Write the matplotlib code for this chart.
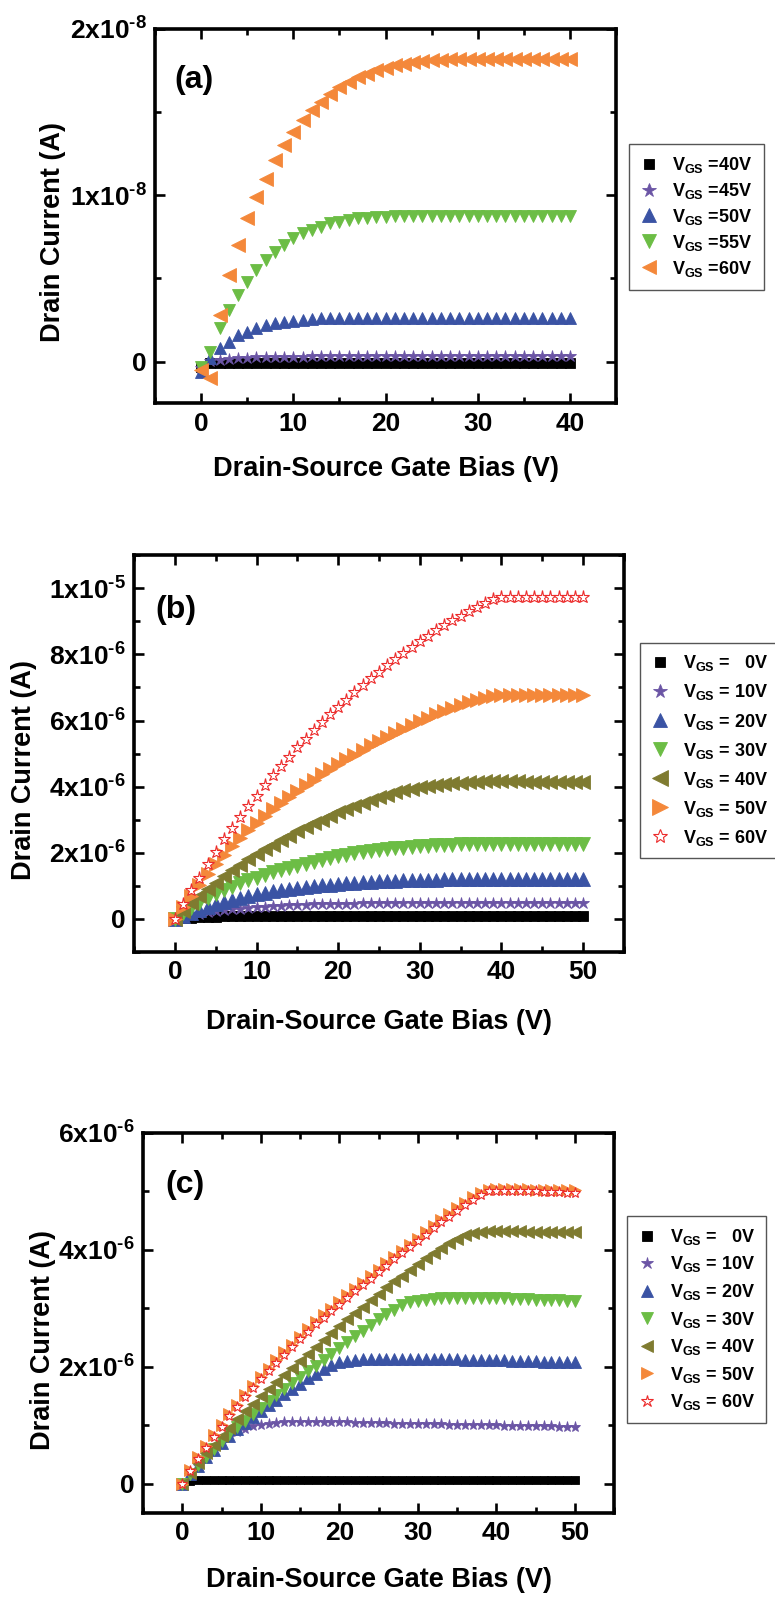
import numpy as np
import matplotlib
matplotlib.use('Agg')
import matplotlib.pyplot as plt
from matplotlib.ticker import MultipleLocator, FuncFormatter

plt.rcParams['font.family'] = ['Liberation Sans', 'DejaVu Sans']
plt.rcParams['font.weight'] = 'bold'
plt.rcParams['axes.labelweight'] = 'bold'
plt.rcParams['mathtext.default'] = 'regular'

# ---------------- (a) Vds = 0..40 V, current in units of 1e-8 A ----------------
vds_a = np.arange(0, 41)
ids_a_40 = [-0.035, -0.01, -0.01, -0.01, -0.01, -0.01, -0.01, -0.01, -0.01, -0.01,
            -0.01, -0.01, -0.01, -0.01, -0.01, -0.01, -0.01, -0.01, -0.01, -0.01,
            -0.01, -0.01, -0.01, -0.01, -0.01, -0.01, -0.01, -0.01, -0.01, -0.01,
            -0.01, -0.01, -0.01, -0.01, -0.01, -0.01, -0.01, -0.01, -0.01, -0.01, -0.01]
ids_a_45 = [-0.04, 0.005, 0.01, 0.015, 0.02, 0.02, 0.025, 0.025, 0.03, 0.03,
            0.03, 0.03, 0.032, 0.032, 0.033, 0.033, 0.034, 0.034, 0.035, 0.035,
            0.035, 0.035, 0.035, 0.035, 0.035, 0.035, 0.035, 0.035, 0.035, 0.035,
            0.035, 0.035, 0.035, 0.035, 0.035, 0.035, 0.035, 0.035, 0.035, 0.035, 0.035]
ids_a_50 = [-0.06, 0.02, 0.08, 0.12, 0.16, 0.18, 0.20, 0.22, 0.23, 0.24,
            0.245, 0.25, 0.255, 0.26, 0.26, 0.265, 0.265, 0.265, 0.265, 0.265,
            0.265, 0.265, 0.265, 0.265, 0.265, 0.265, 0.265, 0.265, 0.265, 0.265,
            0.265, 0.265, 0.265, 0.265, 0.265, 0.265, 0.265, 0.265, 0.265, 0.265, 0.265]
ids_a_55 = [-0.03, 0.06, 0.20, 0.31, 0.40, 0.48, 0.55, 0.61, 0.66, 0.70,
            0.74, 0.77, 0.79, 0.81, 0.83, 0.84, 0.85, 0.86, 0.865, 0.87,
            0.87, 0.872, 0.872, 0.875, 0.875, 0.875, 0.875, 0.875, 0.875, 0.875,
            0.875, 0.875, 0.875, 0.875, 0.875, 0.875, 0.875, 0.875, 0.875, 0.875, 0.875]
ids_a_60 = [-0.05, -0.10, 0.28, 0.52, 0.70, 0.86, 0.99, 1.10, 1.21, 1.30,
            1.38, 1.45, 1.51, 1.56, 1.61, 1.65, 1.68, 1.71, 1.73, 1.75,
            1.765, 1.78, 1.79, 1.80, 1.805, 1.81, 1.815, 1.82, 1.82, 1.82,
            1.82, 1.82, 1.82, 1.82, 1.82, 1.82, 1.82, 1.82, 1.82, 1.82, 1.82]
labels_a = ['V$_{GS}$ =40V', 'V$_{GS}$ =45V', 'V$_{GS}$ =50V', 'V$_{GS}$ =55V', 'V$_{GS}$ =60V']

# ---------------- (b) Vds = 0..50 V, current in units of 1e-6 A ----------------
vds_b = np.arange(0, 51)
ids_b_0 = [0, 0.02, 0.04, 0.05, 0.06, 0.07, 0.08, 0.08, 0.09, 0.09,
           0.10, 0.10, 0.10, 0.10, 0.10, 0.10, 0.10, 0.10, 0.10, 0.10,
           0.10, 0.10, 0.10, 0.10, 0.10, 0.10, 0.10, 0.10, 0.10, 0.10,
           0.10, 0.10, 0.10, 0.10, 0.10, 0.10, 0.10, 0.10, 0.10, 0.10,
           0.10, 0.10, 0.10, 0.10, 0.10, 0.10, 0.10, 0.10, 0.10, 0.10, 0.10]
ids_b_10 = [0, 0.06, 0.11, 0.16, 0.20, 0.23, 0.26, 0.29, 0.31, 0.33,
            0.35, 0.37, 0.38, 0.40, 0.41, 0.42, 0.43, 0.44, 0.44, 0.45,
            0.45, 0.46, 0.46, 0.47, 0.47, 0.47, 0.48, 0.48, 0.48, 0.48,
            0.48, 0.48, 0.48, 0.48, 0.48, 0.48, 0.48, 0.48, 0.48, 0.48,
            0.48, 0.48, 0.48, 0.48, 0.48, 0.48, 0.48, 0.48, 0.48, 0.48, 0.48]
ids_b_20 = [0, 0.10, 0.19, 0.28, 0.36, 0.44, 0.51, 0.58, 0.64, 0.69,
            0.74, 0.79, 0.83, 0.87, 0.91, 0.94, 0.97, 1.00, 1.02, 1.04,
            1.06, 1.08, 1.10, 1.11, 1.13, 1.14, 1.15, 1.16, 1.17, 1.18,
            1.18, 1.19, 1.19, 1.20, 1.20, 1.20, 1.21, 1.21, 1.21, 1.21,
            1.21, 1.21, 1.21, 1.21, 1.21, 1.21, 1.21, 1.21, 1.21, 1.21, 1.21]
ids_b_30 = [0, 0.17, 0.33, 0.48, 0.62, 0.75, 0.87, 0.98, 1.08, 1.17,
            1.25, 1.33, 1.41, 1.48, 1.55, 1.61, 1.67, 1.73, 1.79, 1.85,
            1.90, 1.94, 1.98, 2.02, 2.06, 2.09, 2.12, 2.14, 2.16, 2.18,
            2.20, 2.22, 2.23, 2.24, 2.25, 2.26, 2.27, 2.27, 2.28, 2.28,
            2.28, 2.28, 2.28, 2.28, 2.28, 2.28, 2.28, 2.28, 2.28, 2.28, 2.28]
ids_b_40 = [0, 0.24, 0.47, 0.69, 0.90, 1.10, 1.29, 1.47, 1.64, 1.80,
            1.96, 2.11, 2.25, 2.39, 2.52, 2.65, 2.77, 2.89, 3.00, 3.11,
            3.22, 3.32, 3.42, 3.51, 3.60, 3.68, 3.76, 3.83, 3.89, 3.94,
            3.98, 4.02, 4.05, 4.08, 4.10, 4.12, 4.14, 4.15, 4.16, 4.16,
            4.16, 4.16, 4.16, 4.15, 4.15, 4.15, 4.15, 4.14, 4.14, 4.14, 4.14]
ids_b_50 = [0, 0.35, 0.70, 1.04, 1.36, 1.66, 1.94, 2.20, 2.45, 2.68,
            2.90, 3.11, 3.31, 3.50, 3.69, 3.87, 4.04, 4.21, 4.37, 4.53,
            4.68, 4.83, 4.97, 5.11, 5.25, 5.38, 5.51, 5.63, 5.75, 5.87,
            5.98, 6.09, 6.19, 6.29, 6.38, 6.47, 6.55, 6.62, 6.69, 6.74,
            6.77, 6.77, 6.77, 6.77, 6.77, 6.77, 6.77, 6.77, 6.77, 6.77, 6.77]
ids_b_60 = [0, 0.45, 0.86, 1.25, 1.65, 2.03, 2.41, 2.76, 3.09, 3.41,
            3.73, 4.04, 4.34, 4.62, 4.90, 5.19, 5.45, 5.71, 5.96, 6.19,
            6.41, 6.63, 6.87, 7.08, 7.29, 7.48, 7.67, 7.85, 8.05, 8.23,
            8.40, 8.57, 8.73, 8.88, 9.03, 9.17, 9.31, 9.44, 9.56, 9.67,
            9.74, 9.75, 9.75, 9.75, 9.75, 9.75, 9.75, 9.75, 9.75, 9.75, 9.75]

# ---------------- (c) Vds = 0..50 V, current in units of 1e-6 A ----------------
vds_c = np.arange(0, 51)
ids_c_0 = [0, 0.05, 0.06, 0.07, 0.07, 0.07, 0.07, 0.07, 0.07, 0.07,
           0.07, 0.07, 0.07, 0.07, 0.07, 0.07, 0.07, 0.07, 0.07, 0.07,
           0.07, 0.07, 0.07, 0.07, 0.07, 0.07, 0.07, 0.07, 0.07, 0.07,
           0.065, 0.065, 0.065, 0.065, 0.065, 0.065, 0.065, 0.065, 0.065, 0.065,
           0.06, 0.06, 0.06, 0.06, 0.06, 0.06, 0.06, 0.06, 0.06, 0.06, 0.06]
ids_c_10 = [0, 0.16, 0.31, 0.45, 0.58, 0.70, 0.80, 0.88, 0.94, 0.98,
            1.01, 1.03, 1.04, 1.05, 1.05, 1.05, 1.05, 1.05, 1.05, 1.05,
            1.05, 1.05, 1.04, 1.04, 1.04, 1.04, 1.04, 1.03, 1.03, 1.03,
            1.03, 1.02, 1.02, 1.02, 1.01, 1.01, 1.01, 1.01, 1.00, 1.00,
            1.00, 0.99, 0.99, 0.99, 0.98, 0.98, 0.98, 0.98, 0.97, 0.97, 0.97]
ids_c_20 = [0, 0.16, 0.31, 0.45, 0.58, 0.70, 0.82, 0.93, 1.04, 1.14,
            1.24, 1.34, 1.44, 1.53, 1.62, 1.71, 1.80, 1.88, 1.96, 2.03,
            2.08, 2.10, 2.12, 2.13, 2.13, 2.13, 2.13, 2.13, 2.13, 2.13,
            2.13, 2.13, 2.13, 2.13, 2.13, 2.13, 2.12, 2.12, 2.12, 2.11,
            2.11, 2.11, 2.10, 2.10, 2.10, 2.10, 2.09, 2.09, 2.09, 2.08, 2.08]
ids_c_30 = [0, 0.17, 0.32, 0.46, 0.60, 0.73, 0.85, 0.97, 1.08, 1.19,
            1.30, 1.41, 1.52, 1.62, 1.72, 1.82, 1.92, 2.02, 2.12, 2.22,
            2.32, 2.42, 2.52, 2.62, 2.72, 2.81, 2.90, 2.98, 3.05, 3.10,
            3.13, 3.15, 3.16, 3.17, 3.18, 3.18, 3.18, 3.18, 3.18, 3.17,
            3.17, 3.17, 3.16, 3.16, 3.16, 3.15, 3.15, 3.14, 3.14, 3.13, 3.13]
ids_c_40 = [0, 0.19, 0.36, 0.52, 0.67, 0.82, 0.96, 1.10, 1.24, 1.37,
            1.50, 1.62, 1.74, 1.86, 1.98, 2.10, 2.22, 2.34, 2.46, 2.58,
            2.70, 2.81, 2.92, 3.03, 3.14, 3.25, 3.36, 3.46, 3.56, 3.66,
            3.76, 3.86, 3.95, 4.04, 4.12, 4.19, 4.25, 4.29, 4.31, 4.32,
            4.32, 4.32, 4.32, 4.32, 4.31, 4.31, 4.31, 4.31, 4.30, 4.30, 4.30]
ids_c_50 = [0, 0.24, 0.45, 0.65, 0.84, 1.01, 1.19, 1.35, 1.52, 1.68,
            1.83, 1.97, 2.11, 2.25, 2.38, 2.51, 2.64, 2.77, 2.88, 2.99,
            3.10, 3.22, 3.33, 3.44, 3.55, 3.66, 3.77, 3.88, 3.98, 4.09,
            4.19, 4.30, 4.41, 4.51, 4.61, 4.71, 4.81, 4.90, 4.98, 5.03,
            5.04, 5.04, 5.04, 5.04, 5.04, 5.03, 5.03, 5.03, 5.02, 5.02, 5.02]
ids_c_60 = [0, 0.22, 0.42, 0.61, 0.80, 0.97, 1.15, 1.31, 1.48, 1.64,
            1.79, 1.93, 2.07, 2.21, 2.34, 2.47, 2.60, 2.73, 2.84, 2.95,
            3.06, 3.18, 3.29, 3.40, 3.51, 3.62, 3.73, 3.84, 3.94, 4.05,
            4.15, 4.26, 4.37, 4.47, 4.57, 4.67, 4.77, 4.86, 4.94, 5.00,
            5.01, 5.00, 5.00, 5.00, 5.00, 5.00, 4.99, 4.99, 4.99, 4.98, 4.98]
labels_bc = ['V$_{GS}$ =   0V', 'V$_{GS}$ = 10V', 'V$_{GS}$ = 20V', 'V$_{GS}$ = 30V',
             'V$_{GS}$ = 40V', 'V$_{GS}$ = 50V', 'V$_{GS}$ = 60V']

# marker styles: (marker, face colour, edge colour)
BLACK = ('s', '#000000', '#000000')
PURPLE = ('*', '#6b55a5', '#6b55a5')
BLUE = ('^', '#3a53a4', '#3a53a4')
GREEN = ('v', '#6cbd45', '#6cbd45')
ORANGE_L = ('<', '#f4883a', '#f4883a')
OLIVE = ('<', '#7f7b30', '#7f7b30')
ORANGE_R = ('>', '#f4883a', '#f4883a')
RED_OPEN = ('*', 'white', '#ec2a2a')


def sci_label(v, pos):
    if abs(v) < 1e-20:
        return '0'
    e = int(np.floor(np.log10(abs(v)) + 1e-9))
    m = v / 10.0 ** e
    # short hyphen in the exponent instead of the wide math minus
    return '%gx10$^{\u2010%d}$' % (round(m, 3), -e)


def style_axes(ax, xlim, ylim, ymajor, yminor, tag, tagpos, ylab_pos):
    ax.set_xlim(*xlim)
    ax.set_ylim(*ylim)
    ax.xaxis.set_major_locator(MultipleLocator(10))
    ax.xaxis.set_minor_locator(MultipleLocator(5))
    ax.yaxis.set_major_locator(MultipleLocator(ymajor))
    ax.yaxis.set_minor_locator(MultipleLocator(yminor))
    ax.yaxis.set_major_formatter(FuncFormatter(sci_label))
    ax.tick_params(which='both', direction='in', top=True, right=True,
                   width=1.9, labelsize=19, pad=6)
    ax.tick_params(which='major', length=7)
    ax.tick_params(which='minor', length=4)
    for sp in ax.spines.values():
        sp.set_linewidth(2.6)
    ax.set_xlabel('Drain-Source Gate Bias (V)', fontsize=19.5, va='center')
    ax.xaxis.set_label_coords(0.5, -0.176)
    ax.set_ylabel('Drain Current (A)', fontsize=19.5, va='center')
    ax.yaxis.set_label_coords(*ylab_pos)
    ax.text(tagpos[0], tagpos[1], tag, transform=ax.transAxes,
            ha='center', va='center', fontsize=23)


def add_legend(ax, fig, anchor, spacing):
    leg = ax.legend(loc='upper left', bbox_to_anchor=anchor, bbox_transform=fig.transFigure,
                    fontsize=13, numpoints=1, handlelength=1.0, handletextpad=0.8,
                    labelspacing=spacing, borderpad=0.6, fancybox=False,
                    edgecolor='#555555', framealpha=1.0, markerscale=1.1)
    leg.get_frame().set_linewidth(1.0)


fig = plt.figure(figsize=(7.75, 16.0), dpi=100)

# (a)
ax_a = fig.add_axes([0.200, 0.748, 0.595, 0.234])
series_a = [ids_a_40, ids_a_45, ids_a_50, ids_a_55, ids_a_60]
styles_a = [BLACK, PURPLE, BLUE, GREEN, ORANGE_L]
sizes_a = [7, 9, 9, 9, 9.5]
for ys, st, ms, lab in zip(series_a, styles_a, sizes_a, labels_a):
    ax_a.plot(vds_a, np.array(ys) * 1e-8, linestyle='none', marker=st[0], ms=ms,
              mfc=st[1], mec=st[2], mew=0.6, label=lab)
style_axes(ax_a, (-5, 45), (-0.25e-8, 2e-8), 1e-8, 0.5e-8, '(a)', (0.085, 0.864), (-0.222, 0.456))
add_legend(ax_a, fig, (0.800, 0.9156), 0.33)

# (b)
ax_b = fig.add_axes([0.173, 0.405, 0.632, 0.248])
series_b = [ids_b_0, ids_b_10, ids_b_20, ids_b_30, ids_b_40, ids_b_50, ids_b_60]
styles_bc = [BLACK, PURPLE, BLUE, GREEN, OLIVE, ORANGE_R, RED_OPEN]
sizes_b = [6.5, 9, 9.5, 9.5, 10, 10, 9.5]
for ys, st, ms, lab in zip(series_b, styles_bc, sizes_b, labels_bc):
    ax_b.plot(vds_b, np.array(ys) * 1e-6, linestyle='none', marker=st[0], ms=ms,
              mfc=st[1], mec=st[2], mew=0.8 if st[1] == 'white' else 0.6, label=lab)
style_axes(ax_b, (-5, 55), (-1e-6, 1.1e-5), 2e-6, 1e-6, '(b)', (0.086, 0.861), (-0.224, 0.458))
add_legend(ax_b, fig, (0.814, 0.604), 0.5)

# (c)
ax_c = fig.add_axes([0.1845, 0.0544, 0.608, 0.2375])
series_c = [ids_c_0, ids_c_10, ids_c_20, ids_c_30, ids_c_40, ids_c_50, ids_c_60]
sizes_c = [6, 8, 8, 8, 8.5, 8.5, 8]
for ys, st, ms, lab in zip(series_c, styles_bc, sizes_c, labels_bc):
    ax_c.plot(vds_c, np.array(ys) * 1e-6, linestyle='none', marker=st[0], ms=ms,
              mfc=st[1], mec=st[2], mew=0.8 if st[1] == 'white' else 0.6, label=lab)
style_axes(ax_c, (-5, 55), (-0.5e-6, 6e-6), 2e-6, 1e-6, '(c)', (0.089, 0.863), (-0.213, 0.455))
add_legend(ax_c, fig, (0.797, 0.2456), 0.42)

fig.savefig('out.png', dpi=100)
